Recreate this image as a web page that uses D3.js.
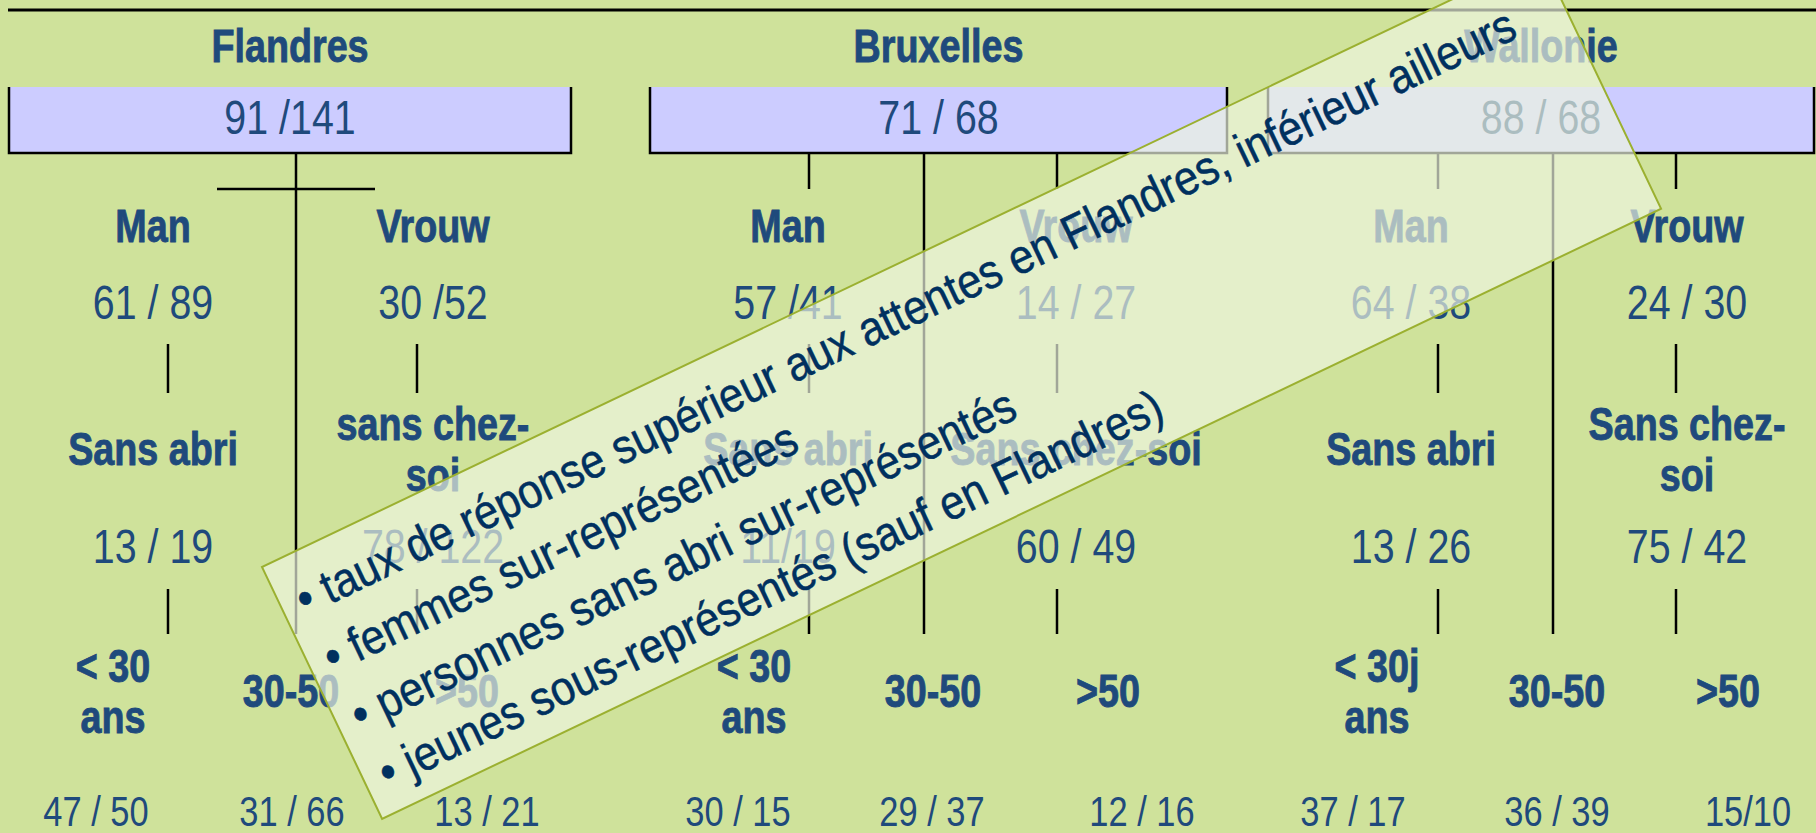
<!DOCTYPE html>
<html>
<head>
<meta charset="utf-8">
<script src="https://cdn.jsdelivr.net/npm/d3@7"></script>
<style>
  html, body { margin: 0; padding: 0; background: #cfe29b; }
  svg { display: block; }
</style>
</head>
<body>
<div id="chart"></div>
<script>
(function(){
    var width = 1816;
    var height = 833;

    // data
    var regions = ["Flandres", "Bruxelles", "Wallonie"];
    var regionCounts = ["91 /141", "71 / 68", "88 / 68"];
    var genders = ["Man", "Vrouw"];
    var genderCounts = [["61 / 89", "30 /52"], ["57 /41", "14 / 27"], ["64 / 38", "24 / 30"]];
    var housing = [["Sans abri", "sans chez-\nsoi"], ["Sans abri", "Sans chez-soi"], ["Sans abri", "Sans chez-\nsoi"]];
    var housingCounts = [["13 / 19", "78 / 122"], ["11/19", "60 / 49"], ["13 / 26", "75 / 42"]];
    var ages = [["< 30\nans", "30-50", ">50"], ["< 30\nans", "30-50", ">50"], ["< 30j\nans", "30-50", ">50"]];
    var ageCounts = [["47 / 50", "31 / 66", "13 / 21"], ["30 / 15", "29 / 37", "12 / 16"], ["37 / 17", "36 / 39", "15/10"]];
    var notes = [
        "\u2022 taux de réponse supérieur aux attentes en Flandres, inférieur ailleurs",
        "\u2022 femmes sur-représentées",
        "\u2022 personnes sans abri sur-représentés",
        "\u2022 jeunes sous-représentés (sauf en Flandres)"
    ];

    // layout (pixels)
    var boxX = d3.scaleOrdinal().domain(regions).range([[9, 571], [650, 1227], [1268, 1814]]);
    var trunkX = d3.scaleOrdinal().domain(regions).range([296, 924, 1553]);
    var genderX = d3.scaleOrdinal().domain(regions).range([[153, 433], [788, 1076], [1411, 1687]]);
    var stubX = d3.scaleOrdinal().domain(regions).range([[168, 417], [809, 1057], [1438, 1676]]);
    var ageLabelX = d3.scaleOrdinal().domain(regions).range([[113, 291, 467], [754, 933, 1108], [1377, 1557, 1728]]);
    var ageValX = d3.scaleOrdinal().domain(regions).range([[96, 292, 487], [738, 932, 1142], [1353, 1557, 1748]]);

    var rowY = {heading: 62, boxTop: 87, boxBottom: 153, box: 134, gender: 242, genderVal: 319,
        stub1: [344, 393], housing: 465, housingVal: 563, stub2: [589, 634], age: 707, ageVal: 826};
    var lineGap = 51;

    var blue = "#1f4a7c";
    var squeeze = 0.82; // no narrow font installed, so squeeze Liberation Sans

    var svg = d3.select("#chart")
        .append("svg")
        .attr("width", width)
        .attr("height", height);

    svg.append("rect")
        .attr("width", width)
        .attr("height", height)
        .attr("fill", "#cfe29b");

    svg.append("line")
        .attr("x1", 8).attr("x2", width)
        .attr("y1", 10).attr("y2", 10)
        .attr("stroke", "#000").attr("stroke-width", 3);

    function label(sel, txt, x, y, bold, size) {
        var lines = txt.split("\n");
        var t = sel.append("text")
            .attr("transform", "translate(" + x + "," + y + ") scale(" + squeeze + ",1)")
            .attr("text-anchor", "middle")
            .attr("font-family", "'Liberation Sans', Arial, sans-serif")
            .attr("font-weight", bold ? "bold" : "normal")
            .attr("font-size", size || (bold ? 46 : 48))
            .attr("fill", blue);
        if (bold) t.attr("stroke", blue).attr("stroke-width", 0.9);
        var y0 = -(lines.length - 1) * lineGap / 2;
        lines.forEach(function(l, i){
            t.append("tspan").attr("x", 0).attr("y", y0 + i * lineGap).text(l);
        });
    }

    function vline(x, y1, y2) {
        svg.append("line")
            .attr("x1", x).attr("x2", x)
            .attr("y1", y1).attr("y2", y2)
            .attr("stroke", "#000").attr("stroke-width", 2.5);
    }

    regions.forEach(function(r, i){
        var bx = boxX(r);
        var cx = (bx[0] + bx[1]) / 2;
        var g = svg.append("g");

        label(g, r, cx, rowY.heading, true);

        g.append("rect")
            .attr("x", bx[0]).attr("y", rowY.boxTop)
            .attr("width", bx[1] - bx[0]).attr("height", rowY.boxBottom - rowY.boxTop)
            .attr("fill", "#ccccff");
        g.append("path")
            .attr("d", "M" + bx[0] + "," + rowY.boxTop + "V" + rowY.boxBottom + "H" + bx[1] + "V" + rowY.boxTop)
            .attr("fill", "none").attr("stroke", "#000").attr("stroke-width", 2.5);
        label(g, regionCounts[i], cx, rowY.box, false);

        // trunk
        vline(trunkX(r), rowY.boxBottom, rowY.stub2[1]);

        var sx = stubX(r);
        if (i === 0) {
            svg.append("line")
                .attr("x1", 217).attr("x2", 375)
                .attr("y1", 189).attr("y2", 189)
                .attr("stroke", "#000").attr("stroke-width", 2.5);
        } else {
            sx.forEach(function(x){ vline(x, rowY.boxBottom, 189); });
        }
        sx.forEach(function(x){
            vline(x, rowY.stub1[0], rowY.stub1[1]);
            vline(x, rowY.stub2[0], rowY.stub2[1]);
        });

        genders.forEach(function(gd, j){
            var x = genderX(r)[j];
            label(g, gd, x, rowY.gender, true);
            label(g, genderCounts[i][j], x, rowY.genderVal, false);
            label(g, housing[i][j], x, rowY.housing, true);
            label(g, housingCounts[i][j], x, rowY.housingVal, false);
        });

        ages[i].forEach(function(a, k){
            label(g, a, ageLabelX(r)[k], rowY.age, true);
            label(g, ageCounts[i][k], ageValX(r)[k], rowY.ageVal, false, 42);
        });
    });

    // callout
    var noteScale = 0.9;
    var note = svg.append("g")
        .attr("transform", "translate(262,567) rotate(-25.5)");
    note.append("rect")
        .attr("width", 1417)
        .attr("height", 279)
        .attr("fill", "#eef4e0")
        .attr("fill-opacity", 0.68)
        .attr("stroke", "#9bb030")
        .attr("stroke-width", 2);
    note.selectAll("text.note")
        .data(notes)
        .enter().append("text")
        .attr("class", "note")
        .attr("transform", "scale(" + noteScale + ",1)")
        .attr("x", 18 / noteScale)
        .attr("y", function(d, i){ return 63 + i * 64; })
        .attr("font-family", "'Liberation Sans', Arial, sans-serif")
        .attr("font-size", 48)
        .attr("fill", "#00305f")
        .attr("stroke", "#00305f")
        .attr("stroke-width", 0.5)
        .text(function(d){ return d; });
})();
</script>
</body>
</html>
